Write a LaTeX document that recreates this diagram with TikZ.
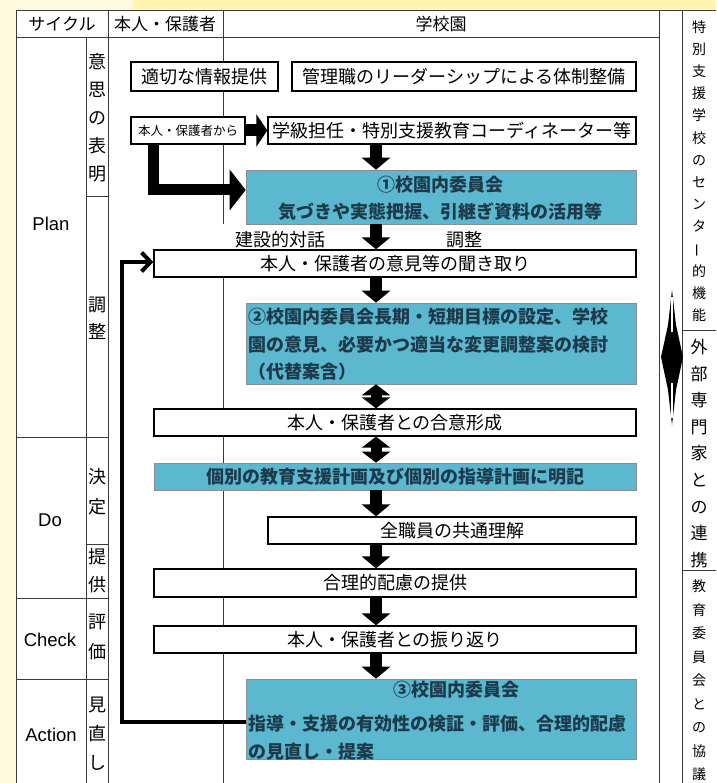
\documentclass[tikz,border=0pt]{standalone}
\usepackage{fontspec}
\setmainfont{Noto Sans CJK JP}
\newfontfamily\latinfont{Liberation Sans}
\usepackage{graphicx}
\usetikzlibrary{arrows.meta}
\definecolor{cream}{HTML}{FFF9DE}
\definecolor{stripc}{HTML}{FFF3AE}
\definecolor{bluebox}{HTML}{5BB8CF}
\definecolor{bluetext}{HTML}{1C3A4C}
\definecolor{rulec}{HTML}{3A3A3A}
\newcommand{\vbar}{\rotatebox[origin=c]{90}{ー}}
\begin{document}
\begin{tikzpicture}[x=1pt,y=-1pt,
  tabline/.style={draw=rulec,line width=0.9pt},
  wbox/.style={draw=black,line width=1.3pt,fill=white,inner sep=0pt,font=\fontsize{18}{22}\selectfont},
  bbox/.style={draw=black!45,line width=0.6pt,fill=bluebox,inner sep=0pt},
  btext/.style={inner sep=0pt,text=bluetext,font=\bfseries\fontsize{18}{27.5}\selectfont},
  hdr/.style={inner sep=0pt,font=\fontsize{17}{20}\selectfont},
  cyc/.style={inner sep=0pt,font=\latinfont\fontsize{18.5}{22}\selectfont},
  lbl/.style={inner sep=0pt,font=\fontsize{18}{22}\selectfont},
  blockdown/.style={line width=12pt,-{Triangle[width=28pt,length=12pt]}},
  blockboth/.style={line width=11pt,{Triangle[width=28pt,length=11pt]}-{Triangle[width=28pt,length=11pt]}},
]
\useasboundingbox (0,0) rectangle (716,783);
% background
\fill[cream] (0,0) rectangle (716,783);
\fill[stripc] (133,0) rectangle (716,9);
\fill[white] (16,10) rectangle (716,783);

% table lines
\draw[tabline] (16,10) -- (716,10);
\draw[tabline] (16,10) -- (16,783);
\draw[tabline] (16,37) -- (659,37);
\draw[tabline] (108,10) -- (108,783);
\draw[tabline] (86,37) -- (86,783);
\draw[tabline] (223,10) -- (223,224);
\draw[tabline] (223,250) -- (223,783);
\draw[tabline] (659,10) -- (659,783);
\draw[tabline] (682,10) -- (682,783);
\foreach \yy in {437,598,679} \draw[tabline] (16,\yy) -- (108,\yy);
\foreach \yy in {196,544} \draw[tabline] (86,\yy) -- (108,\yy);
\foreach \yy in {330,570} \draw[tabline] (682,\yy) -- (716,\yy);

% header
\node[hdr] (h1) at (62,24) {サイクル};
\node[hdr] (h2) at (165,24) {本人・保護者};
\node[hdr] (h3) at (441,24) {学校園};

% cycle labels
\node[cyc] (plan) at (51,224) {Plan};
\node[cyc] (do) at (50,520) {Do};
\node[cyc] (check) at (50,640) {Check};
\node[cyc] (action) at (51,735) {Action};

% sub column labels
\node[inner sep=0pt,align=center,font=\fontsize{18}{28}\selectfont] (s1) at (97,117.5) {意\\思\\の\\表\\明};
\node[inner sep=0pt,align=center,font=\fontsize{18}{27}\selectfont] (s2) at (97,318.5) {調\\整};
\node[inner sep=0pt,align=center,font=\fontsize{18}{30}\selectfont] (s3) at (97,492) {決\\定};
\node[inner sep=0pt,align=center,font=\fontsize{18}{28}\selectfont] (s4) at (97,571) {提\\供};
\node[inner sep=0pt,align=center,font=\fontsize{18}{30}\selectfont] (s5) at (97,637) {評\\価};
\node[inner sep=0pt,align=center,font=\fontsize{18}{29}\selectfont] (s6) at (97,734) {見\\直\\し};

% right column
\node[inner sep=0pt,align=center,font=\fontsize{14}{22.15}\selectfont] (r1) at (699,171)
  {特\\別\\支\\援\\学\\校\\の\\セ\\ン\\タ\\\vbar\\的\\機\\能};
\node[inner sep=0pt,align=center,font=\fontsize{17}{26.6}\selectfont] (r2) at (699,453.5)
  {外\\部\\専\\門\\家\\と\\の\\連\\携};
\node[inner sep=0pt,align=center,font=\fontsize{14}{23.5}\selectfont] (r3) at (699,680.5)
  {教\\育\\委\\員\\会\\と\\の\\協\\議};

% double arrow in the narrow column
\fill[black] (672,290) -- (676,325) -- (683,357) -- (676,390) -- (672,425) -- (668,390) -- (661,357) -- (668,325) -- cycle;
\draw[white,line width=1.3pt] (672,297) -- (672,332);
\draw[white,line width=1.3pt] (672,383) -- (672,418);

% boxes
\node[wbox,minimum width=147pt,minimum height=29pt] (b1) at (204.5,76.5) {適切な情報提供};
\node[wbox,minimum width=344pt,minimum height=29pt] (b2) at (464,76.5) {管理職のリーダーシップによる体制整備};
\node[wbox,minimum width=114pt,minimum height=27pt,font=\fontsize{12.5}{15}\selectfont] (b3) at (188,130.5) {本人・保護者から};
\node[wbox,minimum width=368pt,minimum height=27pt] (b4) at (452,130.5) {学級担任・特別支援教育コーディネーター等};
\node[bbox,minimum width=390pt,minimum height=54pt] (b5) at (441,197) {};
\node[btext] (b5a) at (440,185) {①校園内委員会};
\node[btext] (b5b) at (440,212) {気づきや実態把握、引継ぎ資料の活用等};
\node[lbl] (l1) at (280,240) {建設的対話};
\node[lbl] (l2) at (464,240) {調整};
\node[wbox,minimum width=482pt,minimum height=27pt] (b7) at (395,263.5) {本人・保護者の意見等の聞き取り};
\node[bbox,minimum width=390pt,minimum height=81pt] (b8) at (441,343.5) {};
\node[btext,anchor=west,align=left] (b8a) at (248,344.5) {②校園内委員会長期・短期目標の設定、学校\\園の意見、必要かつ適当な変更調整案の検討\\（代替案含）};
\node[wbox,minimum width=482pt,minimum height=27pt] (b9) at (395,422.5) {本人・保護者との合意形成};
\node[bbox,minimum width=482pt,minimum height=27pt] (b10) at (395,476.5) {};
\node[btext] (b10a) at (395,476.5) {個別の教育支援計画及び個別の指導計画に明記};
\node[wbox,minimum width=368pt,minimum height=27pt] (b11) at (452,530.5) {全職員の共通理解};
\node[wbox,minimum width=482pt,minimum height=28pt] (b12) at (395,583) {合理的配慮の提供};
\node[wbox,minimum width=482pt,minimum height=27pt] (b13) at (395,639.5) {本人・保護者との振り返り};
\node[bbox,minimum width=390pt,minimum height=80pt] (b14) at (441,719) {};
\node[btext] (b14a) at (456,690) {③校園内委員会};
\node[btext,anchor=west,align=left] (b14b) at (248,737.5) {指導・支援の有効性の検証・評価、合理的配慮\\の見直し・提案};

% block arrows
\draw[line width=12pt,-{Triangle[width=32pt,length=11pt]}] (b3.east) -- (b4.west);
\draw[line width=11pt,-{Triangle[width=40pt,length=16pt]}] (153,0 |- b3.south) |- (b5.west |- 0,190);
\draw[blockdown] (376,0 |- b4.south) -- (376,0 |- b5.north);
\draw[blockdown] (376,0 |- b5.south) -- (376,0 |- b7.north);
\draw[blockdown] (376,0 |- b7.south) -- (376,0 |- b8.north);
\draw[blockboth] (376,0 |- b8.south) -- (376,0 |- b9.north);
\draw[blockboth] (376,0 |- b9.south) -- (376,0 |- b10.north);
\draw[blockdown] (376,0 |- b10.south) -- (376,0 |- b11.north);
\draw[blockdown] (376,0 |- b11.south) -- (376,0 |- b12.north);
\draw[blockdown] (376,0 |- b12.south) -- (376,0 |- b13.north);
\draw[blockdown] (376,0 |- b13.south) -- (376,0 |- b14.north);

% feedback arrow
\draw[line width=4pt,-{Straight Barb[length=9pt,width=19pt]}] (b14.west |- 0,722) -| (122,262) -- (b7.west |- 0,262);
\end{tikzpicture}
\end{document}
